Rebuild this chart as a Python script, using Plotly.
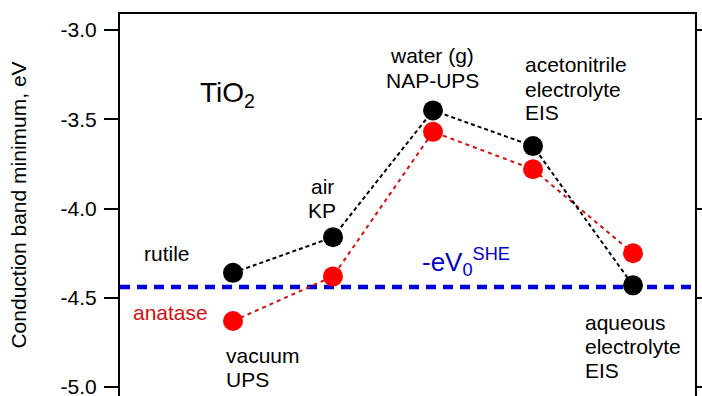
import plotly.graph_objects as go

positions = [1, 2, 3, 4, 5]
rutile = [-4.36, -4.16, -3.45, -3.65, -4.43]
anatase = [-4.63, -4.38, -3.57, -3.78, -4.25]
she_level = -4.44
tick_vals = [-3.0, -3.5, -4.0, -4.5, -5.0]
tick_text = ["-3.0", "-3.5", "-4.0", "-4.5", "-5.0"]

FONT = "Liberation Sans, Arial, sans-serif"
W, H = 702, 396
ML, MR, MT, MB = 120, 7, 14, 0
PW, PH = W - ML - MR, H - MT - MB

fig = go.Figure()

fig.add_trace(go.Scatter(
    x=[-0.13, 5.62], y=[she_level, she_level], mode="lines",
    line=dict(color="#0000dd", width=4.5, dash="10px,7px"),
    hoverinfo="skip", showlegend=False))
fig.add_trace(go.Scatter(
    x=positions, y=anatase, mode="lines",
    line=dict(color="#d21010", width=2, dash="4px,4px"),
    showlegend=False))
fig.add_trace(go.Scatter(
    x=positions, y=rutile, mode="lines",
    line=dict(color="black", width=2, dash="4px,3px"),
    showlegend=False))
fig.add_trace(go.Scatter(
    x=positions, y=anatase, mode="markers",
    marker=dict(color="#ff0000", size=20, line=dict(width=0)),
    showlegend=False))
fig.add_trace(go.Scatter(
    x=positions, y=rutile, mode="markers",
    marker=dict(color="black", size=20, line=dict(width=0)),
    showlegend=False))


def ann(lines, px, py, color="black", size=21, xanchor="left", spacing=24):
    # px, py: screen pixel position of first line (anchor x, vertical middle)
    for i, t in enumerate(lines):
        fig.add_annotation(
            text=t, x=(px - ML) / PW, y=(H - MB - (py + i * spacing)) / PH,
            xref="paper", yref="paper", xanchor=xanchor, yanchor="middle",
            showarrow=False, font=dict(family=FONT, size=size, color=color))


ann(["TiO<sub>2</sub>"], 198, 95, size=28)
ann(["water (g)", "NAP-UPS"], 432, 56, xanchor="center")
ann(["acetonitrile", "electrolyte", "EIS"], 523, 65)
ann(["air", "KP"], 322, 186, xanchor="center")
ann(["rutile"], 142, 253)
ann(["anatase"], 131, 312, color="#d21010")
ann(["vacuum", "UPS"], 224, 355)
ann(["aqueous", "electrolyte", "EIS"], 583, 322)
ann(["-eV<sub>0</sub><sup>SHE</sup>"], 420, 262, color="#0000cc", size=26)

fig.update_layout(
    width=W, height=H,
    margin=dict(l=ML, r=MR, t=MT, b=MB),
    paper_bgcolor="white", plot_bgcolor="white",
    font=dict(family=FONT, size=21, color="black"),
    xaxis=dict(range=[-0.13, 5.62], side="top", showline=True,
               linecolor="black", linewidth=2, showgrid=False,
               zeroline=False, showticklabels=False, ticks="",
               automargin=False),
    yaxis=dict(range=[-5.05, -2.91], showline=True, mirror="ticks",
               linecolor="black", linewidth=2, showgrid=False,
               zeroline=False, ticks="outside", ticklen=14, tickwidth=2,
               tickcolor="black", tickvals=tick_vals, ticktext=tick_text,
               ticklabeloverflow="allow", ticklabelstandoff=3,
               automargin=False,
               tickfont=dict(family=FONT, size=21),
               title=dict(text="Conduction band minimum, eV",
                          font=dict(family=FONT, size=21), standoff=28)),
)

post = (
    "document.body.style.margin='0';"
    "document.body.style.overflow='hidden';"
)
fig.write_html("out.html", config={"displayModeBar": False},
               post_script=post)
